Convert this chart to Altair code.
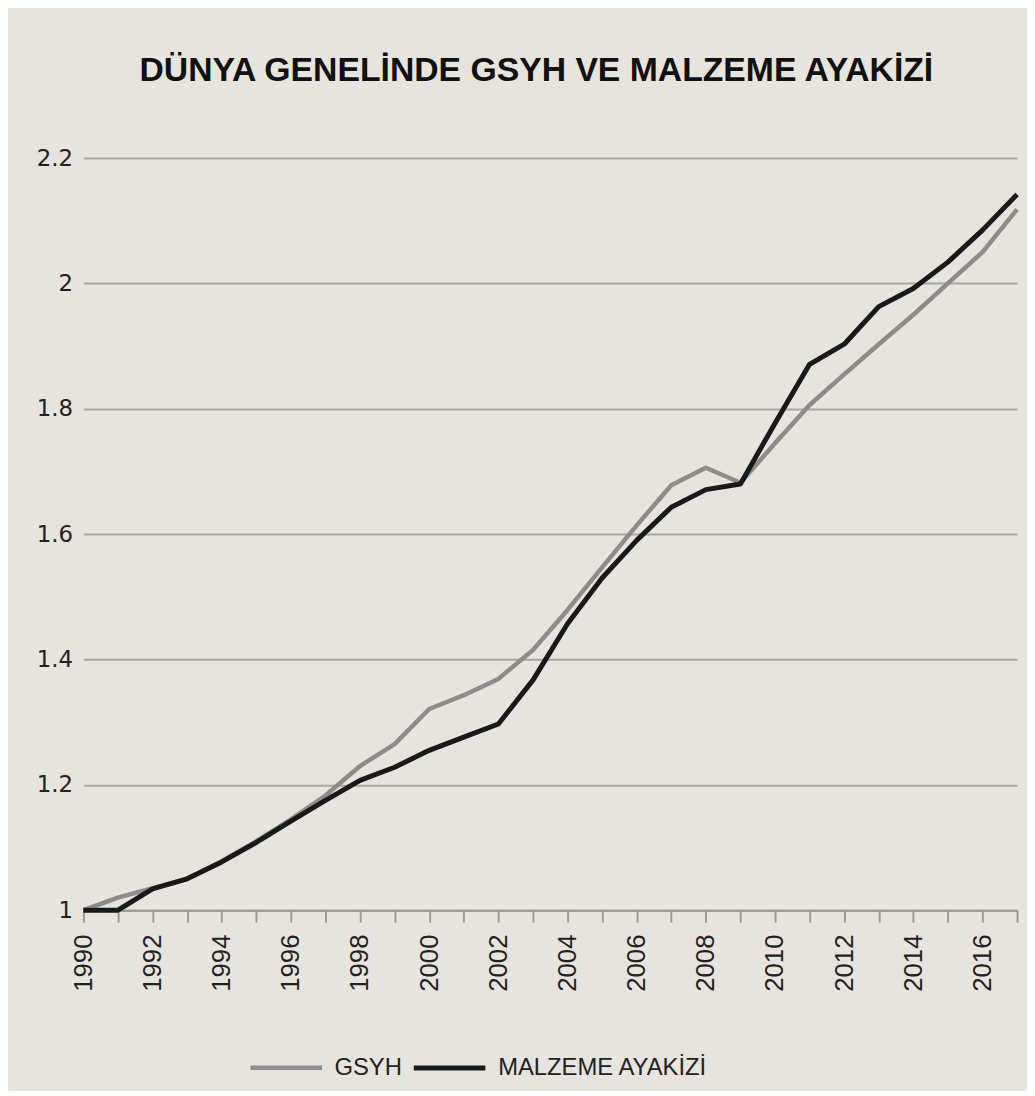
import altair as alt
import pandas as pd

years = list(range(1990, 2018))
gsyh = [1.0, 1.02, 1.035, 1.05, 1.078, 1.11, 1.145, 1.183, 1.23, 1.265,
        1.321, 1.343, 1.369, 1.415, 1.479, 1.547, 1.614, 1.678, 1.706, 1.682,
        1.745, 1.806, 1.855, 1.903, 1.95, 2.0, 2.05, 2.118]
malzeme = [1.0, 1.0, 1.034, 1.05, 1.077, 1.108, 1.142, 1.175, 1.207, 1.228,
           1.255, 1.276, 1.297, 1.367, 1.457, 1.53, 1.59, 1.643, 1.671, 1.68,
           1.777, 1.871, 1.903, 1.963, 1.992, 2.034, 2.085, 2.142]
series_names = ["GSYH", "MALZEME AYAKİZİ"]
series_colors = ["#8d8c89", "#1a1919"]
title_text = "DÜNYA GENELİNDE GSYH VE MALZEME AYAKİZİ"
y_ticks = [1, 1.2, 1.4, 1.6, 1.8, 2, 2.2]

rows = []
for yr, a, b in zip(years, gsyh, malzeme):
    rows.append({"year": yr, "series": series_names[0], "value": a})
    rows.append({"year": yr, "series": series_names[1], "value": b})
df = pd.DataFrame(rows)

chart = alt.Chart(df).mark_line(strokeJoin="round", strokeCap="butt").encode(
    x=alt.X(
        "year:Q",
        scale=alt.Scale(domain=[1990, 2017], nice=False, zero=False),
        axis=alt.Axis(
            title=None, values=years, format="d",
            labelExpr="datum.value % 2 == 0 && datum.value < 2017 ? datum.label : ''",
            labelAngle=-90, labelAlign="right", labelBaseline="middle",
            labelFont="Liberation Sans", labelFontSize=26, labelColor="#222222",
            labelPadding=12, tickSize=12, tickColor="#9c9a95", tickWidth=2,
            domainColor="#9c9a95", domainWidth=2, grid=False, labelOverlap=False,
        ),
    ),
    y=alt.Y(
        "value:Q",
        scale=alt.Scale(domain=[1, 2.2], nice=False, zero=False),
        axis=alt.Axis(
            title=None, values=y_ticks, format="~g",
            labelFont="DejaVu Sans", labelFontSize=23, labelColor="#222222",
            labelPadding=11, ticks=False, domain=False,
            grid=True, gridColor="#a9a7a1", gridWidth=2,
        ),
    ),
    color=alt.Color(
        "series:N",
        scale=alt.Scale(domain=series_names, range=series_colors),
        legend=alt.Legend(
            title=None, orient="none", legendX=166, legendY=878,
            direction="horizontal", symbolType="stroke", symbolSize=5200,
            symbolStrokeWidth=7, labelFont="Liberation Sans", labelFontSize=24,
            labelColor="#222222", labelOffset=10, columnPadding=0,
            labelLimit=400,
        ),
    ),
    strokeWidth=alt.StrokeWidth(
        "series:N", scale=alt.Scale(domain=series_names, range=[4.5, 5]), legend=None
    ),
).properties(
    width=941,
    height=758,
    autosize="none",
    padding={"left": 76, "top": 147, "right": 10, "bottom": 178},
    title=alt.TitleParams(
        text=title_text, font="Liberation Sans", fontSize=34, fontWeight="bold",
        color="#111111", anchor="middle", offset=60, dx=-14,
    ),
).configure(
    background="#e7e4de",
).configure_view(
    stroke=None,
)

chart.save("out.html", embed_options={"renderer": "svg", "actions": False})
